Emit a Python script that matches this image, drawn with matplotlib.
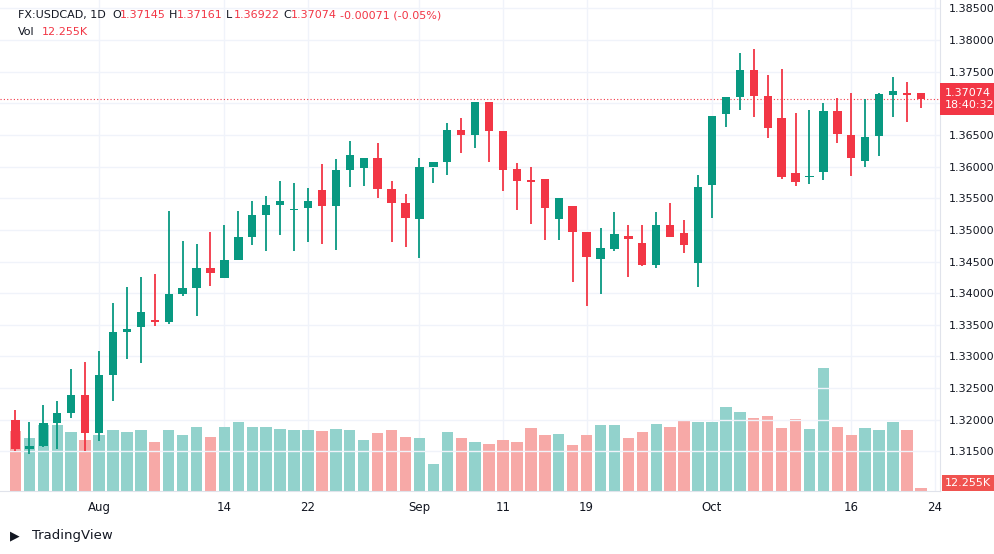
import numpy as np
import matplotlib.pyplot as plt
from matplotlib.patches import Rectangle

# daily candles, FX:USDCAD (late Jul .. Oct)
opens = [1.32000, 1.31530, 1.31580, 1.31950, 1.32110, 1.32390, 1.31790, 1.32700, 1.33380, 1.33470,
         1.33570, 1.33540, 1.33990, 1.34080, 1.34390, 1.34240, 1.34520, 1.34890, 1.35240, 1.35390,
         1.35310, 1.35350, 1.35630, 1.35370, 1.35950, 1.35970, 1.36130, 1.35640, 1.35430, 1.35170,
         1.35990, 1.36070, 1.36580, 1.36500, 1.37020, 1.36570, 1.35960, 1.35790, 1.35800, 1.35170,
         1.35370, 1.34960, 1.34540, 1.34700, 1.34910, 1.34800, 1.34440, 1.35080, 1.34950, 1.34470,
         1.35710, 1.36830, 1.37100, 1.37520, 1.37110, 1.36760, 1.35900, 1.35840, 1.35920, 1.36880,
         1.36500, 1.36090, 1.36480, 1.37130, 1.37170, 1.37160]
highs = [1.32150, 1.31960, 1.32240, 1.32300, 1.32800, 1.32910, 1.33090, 1.33850, 1.34100, 1.34250,
         1.34310, 1.35300, 1.34820, 1.34780, 1.34960, 1.35080, 1.35300, 1.35460, 1.35530, 1.35770,
         1.35740, 1.35660, 1.36040, 1.36120, 1.36400, 1.36130, 1.36370, 1.35770, 1.35570, 1.36130,
         1.35980, 1.36690, 1.36770, 1.36940, 1.36890, 1.36370, 1.36060, 1.35990, 1.35540, 1.35500,
         1.35280, 1.34910, 1.35030, 1.35290, 1.35070, 1.35070, 1.35280, 1.35420, 1.35160, 1.35870,
         1.36800, 1.37050, 1.37800, 1.37860, 1.37450, 1.37540, 1.36840, 1.36900, 1.37000, 1.37080,
         1.37160, 1.37070, 1.37160, 1.37410, 1.37330, 1.37161]
lows = [1.31510, 1.31460, 1.31570, 1.31530, 1.32030, 1.31510, 1.31660, 1.32300, 1.32960, 1.32890,
        1.33480, 1.33520, 1.33950, 1.33640, 1.34110, 1.34440, 1.34550, 1.34760, 1.34660, 1.34920,
        1.34660, 1.34810, 1.34780, 1.34680, 1.35680, 1.35700, 1.35500, 1.34810, 1.34730, 1.34560,
        1.35740, 1.35870, 1.36220, 1.36300, 1.36070, 1.35610, 1.35320, 1.35090, 1.34840, 1.34840,
        1.34180, 1.33800, 1.33980, 1.34660, 1.34250, 1.34430, 1.34390, 1.34950, 1.34640, 1.34090,
        1.35180, 1.36620, 1.36890, 1.36780, 1.36450, 1.35810, 1.35700, 1.35720, 1.35790, 1.36370,
        1.35850, 1.35990, 1.36170, 1.36790, 1.36700, 1.36922]
closes = [1.31530, 1.31580, 1.31950, 1.32110, 1.32390, 1.31790, 1.32700, 1.33380, 1.33430, 1.33700,
          1.33540, 1.33990, 1.34080, 1.34390, 1.34320, 1.34520, 1.34890, 1.35240, 1.35390, 1.35450,
          1.35330, 1.35450, 1.35370, 1.35950, 1.36180, 1.36130, 1.35640, 1.35420, 1.35180, 1.35990,
          1.36080, 1.36580, 1.36500, 1.37020, 1.36560, 1.35950, 1.35770, 1.35750, 1.35350, 1.35500,
          1.34960, 1.34570, 1.34720, 1.34930, 1.34860, 1.34440, 1.35080, 1.34880, 1.34760, 1.35680,
          1.36800, 1.37100, 1.37520, 1.37110, 1.36610, 1.35830, 1.35760, 1.35850, 1.36880, 1.36520,
          1.36130, 1.36460, 1.37150, 1.37190, 1.37130, 1.37074]
volume_k = [240, 212, 264, 264, 236, 204, 224, 244, 236, 244,
            196, 244, 224, 256, 216, 256, 276, 256, 256, 248,
            244, 244, 240, 248, 244, 204, 232, 244, 216, 212,
            108, 236, 212, 196, 188, 204, 196, 252, 224, 228,
            184, 224, 264, 264, 212, 236, 268, 256, 284, 276,
            276, 336, 316, 292, 300, 252, 288, 248, 492, 256,
            224, 252, 244, 276, 244, 12.255]
date_labels = ["Aug", "14", "22", "Sep", "11", "19", "Oct", "16", "24"]
date_idx = [6, 15, 21, 29, 35, 41, 50, 60, 66]

UP, DN = "#089981", "#F23645"
UPV, DNV = "#92d2cc", "#f7a9a7"
TXT = "#131722"

W, H = 994, 554
fig = plt.figure(figsize=(W / 100, H / 100), dpi=100)
axv = fig.add_axes([0, 63 / H, 940 / W, 491 / H])
ax = axv.twinx()
ax.patch.set_visible(False)

n = len(opens)
xs = np.arange(n)
up = [c >= o for o, c in zip(opens, closes)]

# volume
axv.bar(xs, volume_k, width=0.82, color=[UPV if u else DNV for u in up], zorder=2)
axv.set_ylim(0, 491 * 4)
axv.set_yticks([])

# candles
bw = 0.6
for i in range(n):
    col = UP if up[i] else DN
    ax.vlines(xs[i], lows[i], highs[i], color=col, lw=1.3, zorder=3)
    lo, hi = min(opens[i], closes[i]), max(opens[i], closes[i])
    ax.add_patch(Rectangle((xs[i] - bw / 2, lo), bw, max(hi - lo, 0.00004), color=col, lw=0, zorder=4))

xlim = (-1.11, 66.37)
ax.set_xlim(*xlim)
axv.set_xlim(*xlim)
ax.set_ylim(1.30874, 1.38632)
ticks = np.arange(1.315, 1.3851, 0.005)
ax.set_yticks(ticks)
ax.set_yticklabels([f"{t:.5f}" for t in ticks], fontsize=8, color=TXT)
ax.tick_params(axis="y", length=0, pad=6)
for t in ticks:
    ax.axhline(t, color="#f0f3fa", lw=1, zorder=0)
axv.set_xticks(date_idx)
axv.set_xticklabels(date_labels, fontsize=8.5, color=TXT)
axv.tick_params(axis="x", length=0, pad=7)
for d in date_idx:
    axv.axvline(d, color="#f0f3fa", lw=1, zorder=0)
for a in (ax, axv):
    for s in a.spines.values():
        s.set_visible(False)
axv.spines["bottom"].set_visible(True)
axv.spines["bottom"].set_color("#e0e3eb")
ax.spines["right"].set_visible(True)
ax.spines["right"].set_color("#e0e3eb")

# last price line and labels (figure-level so they sit above the tick labels)
last = closes[-1]
ax.axhline(last, color=DN, lw=0.8, ls=(0, (1, 2)), zorder=1)
fig.canvas.draw()
ly = fig.transFigure.inverted().transform(ax.transData.transform((0, last)))[1]
fig.text(945 / W, ly, f"{last:.5f}\n18:40:32", va="center", ha="left", fontsize=8,
         color="white", linespacing=1.25, zorder=10,
         bbox=dict(boxstyle="square,pad=0.45", fc=DN, ec="none"))
fig.text(991 / W, 1 - 483 / H, "12.255K", ha="right", va="center", fontsize=8, color="white",
         zorder=10, bbox=dict(boxstyle="square,pad=0.3", fc="#f05350", ec="none"))

# header
y1 = 1 - 15 / H
fig.text(18 / W, y1, "FX:USDCAD, 1D", fontsize=8, color=TXT, va="center")
parts = [("O", "1.37145"), ("H", "1.37161"), ("L", "1.36922"), ("C", "1.37074")]
x0 = 112
for lab, val in parts:
    fig.text(x0 / W, y1, lab, fontsize=8, color=TXT, va="center")
    fig.text((x0 + 8) / W, y1, val, fontsize=8, color=DN, va="center")
    x0 += 57
fig.text(x0 / W, y1, "-0.00071 (-0.05%)", fontsize=8, color=DN, va="center")
fig.text(18 / W, 1 - 32 / H, "Vol", fontsize=8, color=TXT, va="center")
fig.text(42 / W, 1 - 32 / H, "12.255K", fontsize=8, color=DN, va="center")
fig.text(32 / W, 1 - 536 / H, "TradingView", fontsize=9.5, color=TXT, va="center")
fig.text(10 / W, 1 - 536 / H, "\u25b6", fontsize=9, color=TXT, va="center")

fig.savefig("out.png", dpi=100)
